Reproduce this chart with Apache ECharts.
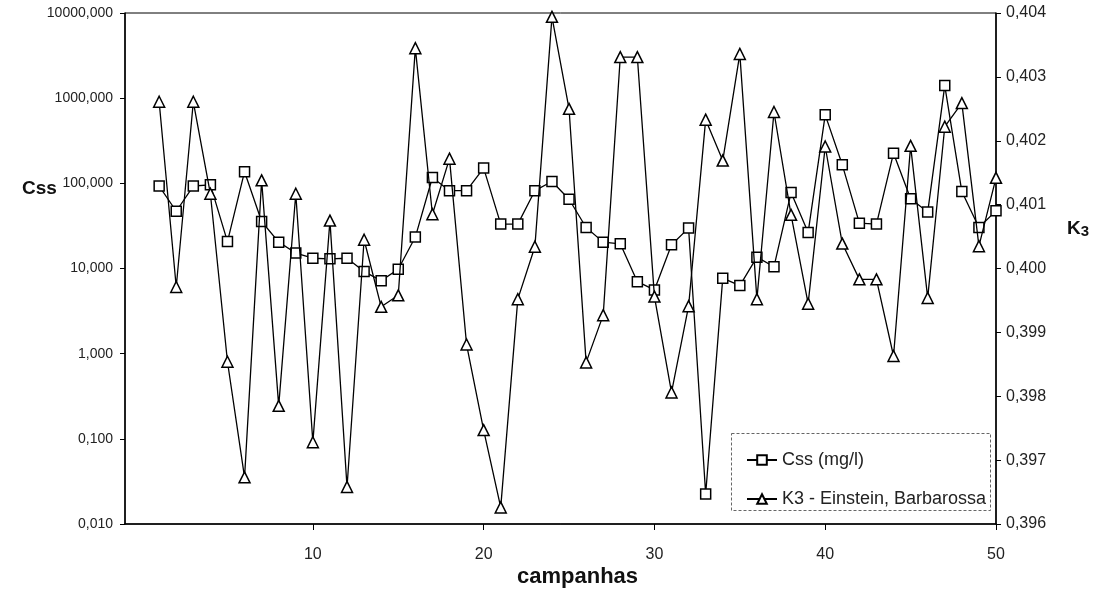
<!DOCTYPE html>
<html>
<head>
<meta charset="utf-8">
<script src="https://cdn.jsdelivr.net/npm/echarts@6/dist/echarts.min.js"></script>
<style>
  html, body { margin: 0; padding: 0; background: #ffffff; }
  #chart { width: 1099px; height: 590px; }
</style>
</head>
<body>
<div id="chart"></div>
<script>
// Campaign numbers (x axis)
const campanhas = [
  1, 2, 3, 4, 5, 6, 7, 8, 9, 10,
  11, 12, 13, 14, 15, 16, 17, 18, 19, 20,
  21, 22, 23, 24, 25, 26, 27, 28, 29, 30,
  31, 32, 33, 34, 35, 36, 37, 38, 39, 40,
  41, 42, 43, 44, 45, 46, 47, 48, 49, 50
];

// Suspended solids concentration, mg/l (left, logarithmic)
const css = [
  93, 47, 93, 96, 20.7, 137, 35.6, 20.4, 15.2, 13.2,
  13.0, 13.2, 9.2, 7.2, 9.8, 23.4, 117, 82, 82, 151,
  33.2, 33.2, 82, 105, 65, 30.3, 20.4, 19.5, 7.0, 5.6,
  19.0, 29.8, 0.0225, 7.7, 6.3, 13.6, 10.5, 78, 26.5, 637,
  165, 34.1, 33.2, 226, 66, 46, 1406, 80, 30.3, 47.5
];

// K3 coefficient, Einstein-Barbarossa (right, linear)
const k3 = [
  0.40261, 0.39971, 0.40261, 0.40117, 0.39854, 0.39673, 0.40138, 0.39785, 0.40117, 0.39728,
  0.40075, 0.39658, 0.40045, 0.39940, 0.39958, 0.40345, 0.40085, 0.40172, 0.39881, 0.39747,
  0.39626, 0.39952, 0.40034, 0.40394, 0.40250, 0.39853, 0.39927, 0.40331, 0.40331, 0.39956,
  0.39806, 0.39941, 0.40233, 0.40169, 0.40336, 0.39952, 0.40245, 0.40084, 0.39945, 0.40191,
  0.40039, 0.39983, 0.39983, 0.39863, 0.40192, 0.39954, 0.40222, 0.40259, 0.40035, 0.40142
];

// Tick labels
const xTicks = [10, 20, 30, 40, 50];
const seriesNames = ['Css (mg/l)', 'K3 - Einstein, Barbarossa'];

const FONT = '"Liberation Sans", Arial, sans-serif';
const decimalComma = v => Number(v).toFixed(3).replace('.', ',');

const chart = echarts.init(document.getElementById('chart'), null, { renderer: 'canvas' });

chart.setOption({
  animation: false,
  backgroundColor: '#ffffff',
  textStyle: { fontFamily: FONT },
  grid: {
    left: 125, right: 103, top: 13, bottom: 66,
    show: true, borderColor: '#000', borderWidth: 1
  },
  legend: {
    orient: 'vertical',
    left: 741, top: 446,
    itemWidth: 30, itemHeight: 12, itemGap: 21,
    textStyle: { fontFamily: FONT, fontSize: 18, color: '#222' },
    data: seriesNames
  },
  xAxis: {
    type: 'value',
    min: -1, max: 50,
    axisLine: { onZero: false, lineStyle: { color: '#000', width: 1.5 } },
    axisTick: { customValues: xTicks, length: 6, lineStyle: { color: '#000' } },
    axisLabel: {
      customValues: xTicks, margin: 23,
      fontFamily: FONT, fontSize: 16, color: '#222'
    },
    splitLine: { show: false }
  },
  yAxis: [
    {
      type: 'log', logBase: 10,
      min: 0.01, max: 10000,
      position: 'left',
      axisLine: { show: true, onZero: false, lineStyle: { color: '#000', width: 1.5 } },
      axisTick: { show: true, length: 5, lineStyle: { color: '#000' } },
      axisLabel: { formatter: decimalComma, margin: 12, fontFamily: FONT, fontSize: 14, color: '#222' },
      splitLine: { show: false },
      minorTick: { show: false }
    },
    {
      type: 'value',
      min: 0.396, max: 0.404, interval: 0.001,
      position: 'right',
      axisLine: { show: true, onZero: false, lineStyle: { color: '#000', width: 1.5 } },
      axisTick: { show: true, length: 5, lineStyle: { color: '#000' } },
      axisLabel: { formatter: decimalComma, margin: 10, fontFamily: FONT, fontSize: 16, color: '#222' },
      splitLine: { show: false }
    }
  ],
  graphic: [
    {
      type: 'text', left: 22, top: 179,
      style: { text: 'Css', fontFamily: FONT, fontSize: 19, fontWeight: 'bold', fill: '#111' }
    },
    {
      type: 'text', left: 1067, top: 219,
      style: {
        text: '{k|K}{s|3}',
        rich: {
          k: { fontFamily: FONT, fontSize: 19, fontWeight: 'bold', fill: '#111' },
          s: { fontFamily: FONT, fontSize: 15, fontWeight: 'bold', fill: '#111', padding: [6, 0, 0, 0] }
        }
      }
    },
    {
      type: 'text', left: 517, top: 566,
      style: { text: 'campanhas', fontFamily: FONT, fontSize: 22, fontWeight: 'bold', fill: '#111' }
    },
    {
      type: 'rect', left: 731, top: 433, z: 1,
      shape: { width: 259, height: 77 },
      style: { fill: '#fff', stroke: '#666', lineWidth: 1, lineDash: [3, 2] }
    }
  ],
  series: [
    {
      name: seriesNames[0],
      type: 'line',
      yAxisIndex: 0,
      data: campanhas.map((c, i) => [c, css[i]]),
      symbol: 'rect', symbolSize: 10,
      lineStyle: { color: '#000', width: 1.3 },
      itemStyle: { color: '#fff', borderColor: '#000', borderWidth: 1.5 },
      z: 3
    },
    {
      name: seriesNames[1],
      type: 'line',
      yAxisIndex: 1,
      data: campanhas.map((c, i) => [c, k3[i]]),
      symbol: 'triangle', symbolSize: 11,
      lineStyle: { color: '#000', width: 1.3 },
      itemStyle: { color: '#fff', borderColor: '#000', borderWidth: 1.5 },
      z: 4
    }
  ]
});
</script>
</body>
</html>
